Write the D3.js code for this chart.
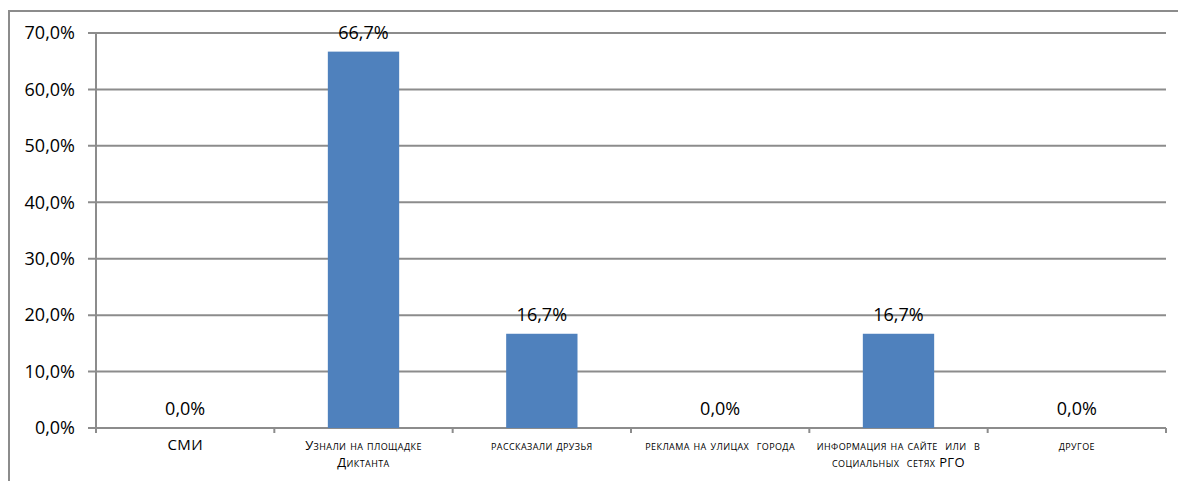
<!DOCTYPE html>
<html lang="ru">
<head>
<meta charset="UTF-8">
<title>Chart</title>
<style>
    body { margin: 0; background: #fff; }
    svg { display: block; font-family: "Open Sans", "Liberation Sans", sans-serif; }
    .grid line { stroke: #8c8c8c; stroke-width: 2px; }
    .tick-label { font-size: 18px; fill: #000; }
    .value { font-size: 18px; fill: #000; text-anchor: middle; }
    .cat { font-size: 13px; letter-spacing: 0.4px; font-variant: small-caps; fill: #000; text-anchor: middle; white-space: pre; }
</style>
<script src="https://d3js.org/d3.v7.min.js"></script>
</head>
<body>
<div id="chart"></div>
<script>
    // categories (multi-line labels) and values in percent
    const CATEGORIES = [
        ["СМИ"],
        ["Узнали на площадке", "Диктанта"],
        ["рассказали друзья"],
        ["реклама на улицах  города"],
        ["информация на сайте  или  в", "социальных  сетях РГО"],
        ["другое"]
    ];
    const VALUES = [0, 66.7, 16.7, 0, 16.7, 0];
    const Y_TICKS = [0, 10, 20, 30, 40, 50, 60, 70];

    const W = 1178, H = 481;
    const margin = { top: 33, right: 12, bottom: 53, left: 96 };
    const width = W - margin.left - margin.right,
          height = H - margin.top - margin.bottom;

    const fmt = (v) => v.toFixed(1).replace(".", ",") + "%";

    const x = d3.scaleBand()
        .domain(d3.range(CATEGORIES.length))
        .range([0, width])
        .paddingInner(0.6)
        .paddingOuter(0.3);

    const y = d3.scaleLinear()
        .domain([0, 70])
        .range([height, 0]);

    const svg = d3.select("#chart").append("svg")
        .attr("width", W)
        .attr("height", H);

    // outer frame
    svg.append("path")
        .attr("d", "M9," + H + " V11 H" + W)
        .attr("fill", "none")
        .attr("stroke", "#8c8c8c")
        .attr("stroke-width", 2);

    const g = svg.append("g")
        .attr("transform", "translate(" + margin.left + "," + margin.top + ")");

    // horizontal gridlines + y ticks
    const grid = g.append("g").attr("class", "grid");
    grid.selectAll("line.h")
        .data(Y_TICKS)
        .join("line")
        .attr("class", "h")
        .attr("x1", -8)
        .attr("x2", width)
        .attr("y1", (d) => y(d))
        .attr("y2", (d) => y(d));

    // y axis line
    grid.append("line")
        .attr("x1", 0).attr("x2", 0)
        .attr("y1", 0).attr("y2", height);

    // x category ticks
    const step = width / CATEGORIES.length;
    grid.selectAll("line.xt")
        .data(d3.range(CATEGORIES.length + 1))
        .join("line")
        .attr("class", "xt")
        .attr("x1", (d) => d * step)
        .attr("x2", (d) => d * step)
        .attr("y1", height)
        .attr("y2", height + 5);

    g.selectAll("text.tick-label")
        .data(Y_TICKS)
        .join("text")
        .attr("class", "tick-label")
        .attr("x", -21)
        .attr("y", (d) => y(d))
        .attr("dy", "0.35em")
        .attr("text-anchor", "end")
        .text(fmt);

    // bars
    g.selectAll("rect.bar")
        .data(VALUES)
        .join("rect")
        .attr("class", "bar")
        .attr("x", (d, i) => x(i))
        .attr("width", x.bandwidth())
        .attr("y", (d) => y(d))
        .attr("height", (d) => height - y(d))
        .attr("fill", "#4f81bd");

    // value labels
    g.selectAll("text.value")
        .data(VALUES)
        .join("text")
        .attr("class", "value")
        .attr("x", (d, i) => x(i) + x.bandwidth() / 2)
        .attr("y", (d) => y(d) - 13)
        .text(fmt);

    // category labels
    const cat = g.selectAll("text.cat")
        .data(CATEGORIES)
        .join("text")
        .attr("class", "cat")
        .attr("x", (d, i) => x(i) + x.bandwidth() / 2)
        .attr("y", height + 22);

    cat.selectAll("tspan")
        .data((d) => d)
        .join("tspan")
        .attr("x", function () { return this.parentNode.getAttribute("x"); })
        .attr("dy", (d, i) => (i === 0 ? 0 : 17))
        .style("font-size", (d) => (d === "СМИ" ? "15px" : null))
        .text((d) => d);
</script>
</body>
</html>
